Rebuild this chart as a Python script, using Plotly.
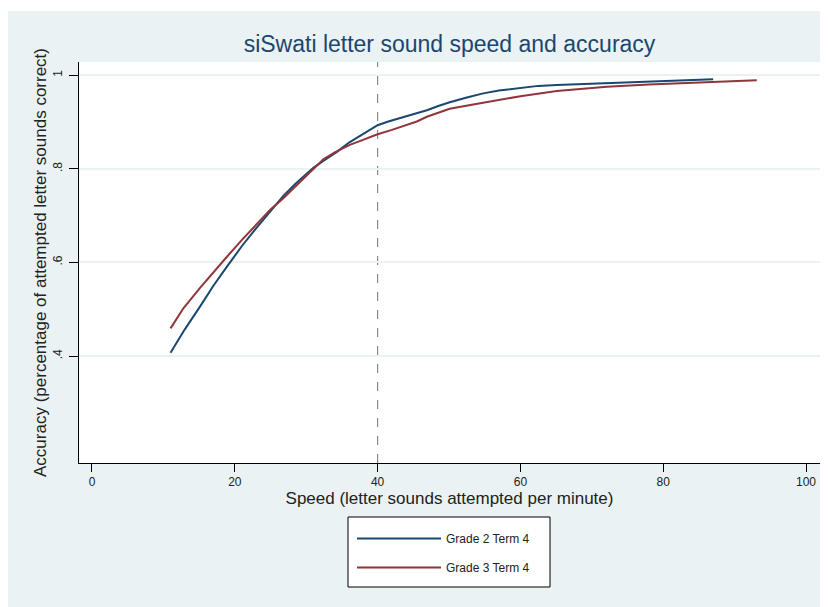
import plotly.graph_objects as go

# Data
g2_speed = [11.0, 13.0, 15.1, 17.0, 19.0, 21.0, 23.1, 25.0, 26.8, 28.5, 30.1, 31.0, 32.5, 34.3, 36.0, 37.5, 38.0, 40.0,
            41.5, 43.1, 45.0, 46.9, 48.5, 50.1, 52.5, 54.8, 57.0, 59.9, 62.5, 65.1, 70.0, 74.0, 80.0, 87.0]
g2_acc = [0.407, 0.457, 0.505, 0.550, 0.593, 0.635, 0.675, 0.710, 0.742, 0.768, 0.790, 0.802, 0.818, 0.836, 0.856,
          0.870, 0.876, 0.893, 0.901, 0.908, 0.916, 0.925, 0.934, 0.942, 0.952, 0.961, 0.967, 0.973, 0.977, 0.979,
          0.982, 0.984, 0.987, 0.991]

g3_speed = [11.0, 12.8, 15.1, 17.0, 18.9, 21.0, 23.5, 25.0, 26.8, 28.5, 30.1, 32.4, 34.0, 36.1, 37.5, 39.9, 42.0,
            43.6, 45.5, 46.9, 48.5, 50.1, 53.0, 56.2, 60.0, 65.1, 72.1, 78.0, 84.2, 93.1]
g3_acc = [0.459, 0.502, 0.545, 0.579, 0.612, 0.648, 0.690, 0.713, 0.737, 0.762, 0.786, 0.820, 0.835, 0.851, 0.859,
          0.873, 0.883, 0.891, 0.901, 0.911, 0.920, 0.928, 0.936, 0.944, 0.955, 0.966, 0.975, 0.980, 0.984, 0.989]

series_names = ["Grade 2 Term 4", "Grade 3 Term 4"]
x_ticks = [0, 20, 40, 60, 80, 100]
y_ticks = [0.4, 0.6, 0.8, 1.0]
y_tick_labels = [".4", ".6", ".8", "1"]
cutoff_speed = 40

BG = "#EAF2F3"
FONT = "Liberation Sans, Arial, Helvetica, sans-serif"

# plot area geometry in figure pixels
W, H = 820, 599
L, R, T, B = 71, 8, 54, 144
PW, PH = W - L - R, H - T - B


def px_x(p):
    return (p - L) / PW


def px_y(p):
    return (H - B - p) / PH


fig = go.Figure()
fig.add_trace(go.Scatter(x=g2_speed, y=g2_acc, mode="lines", name=series_names[0], legendgroup="g2",
                         line=dict(color="#1a476f", width=2)))
fig.add_trace(go.Scatter(x=g3_speed, y=g3_acc, mode="lines", name=series_names[1], legendgroup="g3",
                         line=dict(color="#90353b", width=2)))

fig.add_shape(type="line", xref="x", yref="paper", x0=cutoff_speed, x1=cutoff_speed, y0=0, y1=1,
              line=dict(color="#8a8a8a", width=1.2, dash="dash"), layer="below")

# thin white strip at the top
fig.add_shape(type="rect", xref="paper", yref="paper", x0=-0.2, x1=1.2, y0=px_y(3), y1=1.3,
              fillcolor="white", line=dict(width=0), layer="below")

# legend box
fig.add_shape(type="rect", xref="paper", yref="paper", x0=px_x(340), x1=px_x(542), y0=px_y(509), y1=px_y(579),
              fillcolor="white", line=dict(color="black", width=1), layer="below")

fig.update_layout(
    width=W, height=H,
    margin=dict(l=L, r=R, t=T, b=B),
    paper_bgcolor=BG, plot_bgcolor="white",
    font=dict(family=FONT, color="#222222"),
    title=dict(text="siSwati letter sound speed and accuracy", x=0.5, xref="paper", xanchor="center",
               y=1 - 36 / H, yanchor="middle", font=dict(size=23, color="#1a476f", family=FONT)),
    showlegend=True,
    legend=dict(x=px_x(344), y=px_y(516), xanchor="left", yanchor="top",
                bgcolor="rgba(0,0,0,0)", borderwidth=0,
                font=dict(size=12, color="#222222"), itemwidth=84, tracegroupgap=10,
                traceorder="grouped"),
    xaxis=dict(range=[-1.82, 101.96], tickvals=x_ticks, ticks="outside", ticklen=8, tickcolor="black",
               showline=True, linecolor="black", linewidth=1, showgrid=False, zeroline=False,
               tickfont=dict(size=12, color="#222222"), automargin=False,
               title=dict(text="Speed (letter sounds attempted per minute)", font=dict(size=17), standoff=1)),
    yaxis=dict(range=[0.1715, 1.028], tickvals=y_ticks, ticktext=y_tick_labels, ticks="outside", ticklen=9,
               tickcolor="black", tickangle=-90, showline=True, linecolor="black", linewidth=1,
               showgrid=True, gridcolor=BG, gridwidth=1.5, zeroline=False, ticklabelstandoff=2,
               tickfont=dict(size=12, color="#222222"), automargin=False,
               title=dict(text="Accuracy (percentage of attempted letter sounds correct)", font=dict(size=17),
                          standoff=0)),
)

fig.write_html("out.html")
